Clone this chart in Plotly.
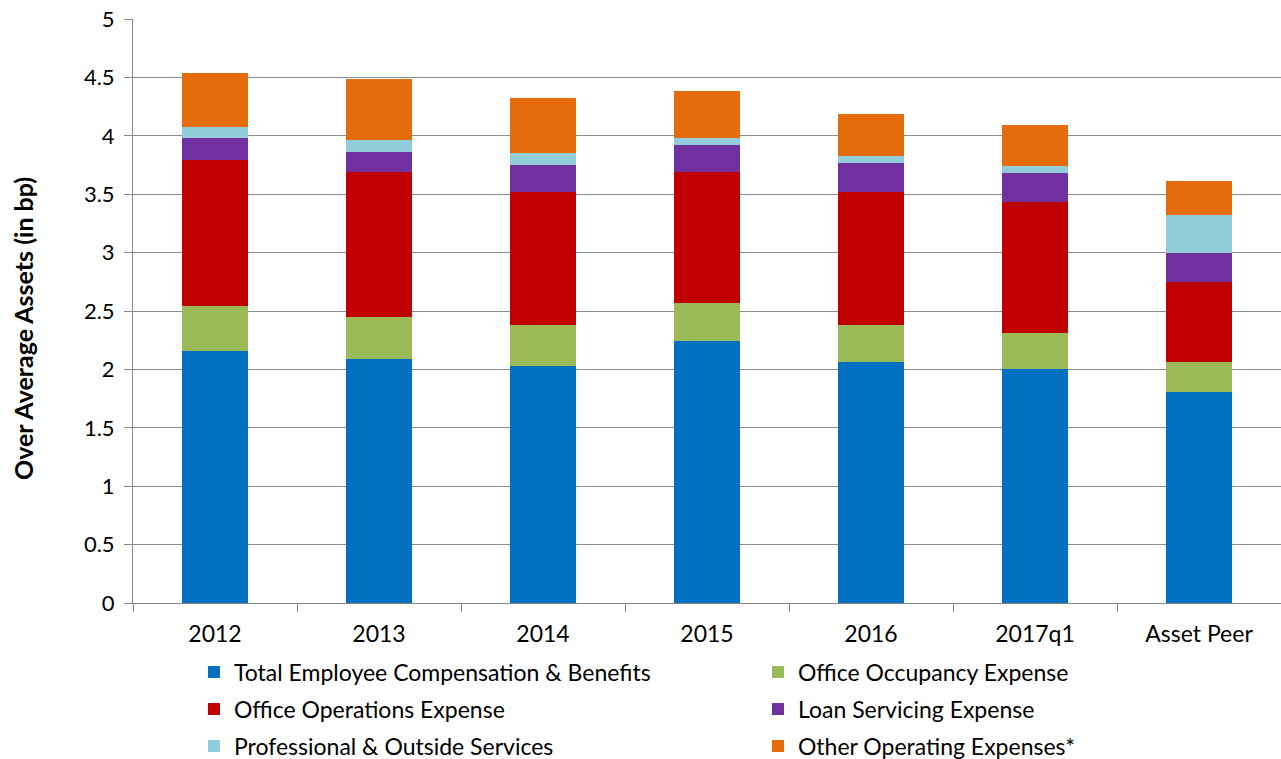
import plotly.graph_objects as go

categories = ["2012", "2013", "2014", "2015", "2016", "2017q1", "Asset Peer"]
employee_comp = [2.16, 2.09, 2.03, 2.24, 2.06, 2.00, 1.81]
office_occupancy = [0.38, 0.36, 0.35, 0.33, 0.32, 0.31, 0.25]
office_operations = [1.25, 1.24, 1.14, 1.12, 1.14, 1.12, 0.69]
loan_servicing = [0.19, 0.17, 0.23, 0.23, 0.25, 0.25, 0.245]
professional = [0.095, 0.10, 0.10, 0.06, 0.06, 0.065, 0.33]
other_operating = [0.46, 0.53, 0.47, 0.40, 0.36, 0.35, 0.285]

series = [
    ("Total Employee Compensation & Benefits", employee_comp, "#0070C0", "legend"),
    ("Office Occupancy Expense", office_occupancy, "#9BBB59", "legend2"),
    ("Office Operations Expense", office_operations, "#C00000", "legend"),
    ("Loan Servicing Expense", loan_servicing, "#7030A0", "legend2"),
    ("Professional & Outside Services", professional, "#92CDDC", "legend"),
    ("Other Operating Expenses*", other_operating, "#E46C0A", "legend2"),
]

fig = go.Figure()
for i, (name, vals, color, leg) in enumerate(series):
    fig.add_trace(go.Bar(x=categories, y=vals, name=name, marker_color=color,
                         marker_line_width=0, legend=leg, legendgroup=f"g{i}"))

font_family = "Lato, 'Open Sans', sans-serif"
legend_common = dict(orientation="v", yanchor="top", xanchor="left",
                     traceorder="grouped", font=dict(size=23), itemwidth=30,
                     tracegroupgap=4, bgcolor="rgba(0,0,0,0)")
fig.update_layout(
    width=1281, height=759,
    barmode="stack", bargap=0.6,
    plot_bgcolor="white", paper_bgcolor="white",
    margin=dict(l=133, r=0, t=19, b=156, autoexpand=False),
    font=dict(family=font_family, size=23, color="black"),
    showlegend=True,
    legend=dict(x=0.0531, y=-0.0816, **legend_common),
    legend2=dict(x=0.5444, y=-0.0816, **legend_common),
    xaxis=dict(showline=True, linecolor="#868686", linewidth=1,
               ticks="outside", tickson="boundaries", ticklen=8, tickcolor="#868686",
               showgrid=False, ticklabelstandoff=10, tickfont=dict(size=23)),
    yaxis=dict(range=[0, 5], dtick=0.5, showline=True, linecolor="#868686", linewidth=1,
               ticks="outside", ticklen=8, tickcolor="#868686",
               showgrid=True, gridcolor="#8C8C8C", gridwidth=1, zeroline=False,
               ticklabelstandoff=5, tickfont=dict(size=22), ticklabeloverflow="allow"),
)

# y-axis title as a rotated annotation for precise placement
fig.add_annotation(text="<b>Over Average Assets (in bp)</b>", textangle=-90,
                   xref="paper", yref="paper", x=(23 - 133) / 1148, y=(603 - 329) / 584,
                   xanchor="center", yanchor="middle",
                   showarrow=False, font=dict(size=25))

fig.write_html("out.html", config={"displayModeBar": False},
               post_script="document.body.style.margin='0';document.body.style.overflow='hidden';")
